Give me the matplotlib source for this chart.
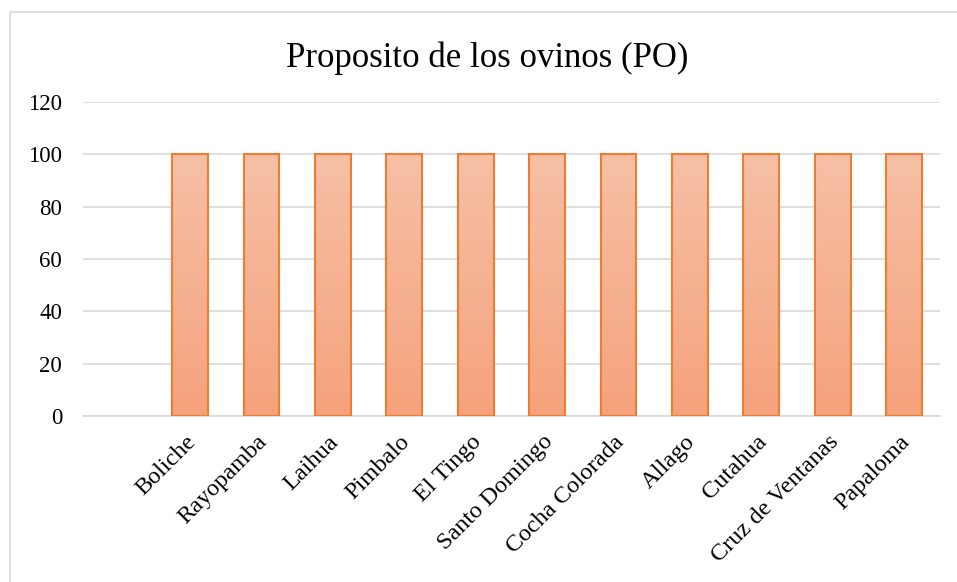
import numpy as np
import matplotlib.pyplot as plt
from matplotlib.patches import Rectangle
from matplotlib.colors import LinearSegmentedColormap
from matplotlib.transforms import ScaledTranslation

plt.rcParams['font.family'] = ['Liberation Serif', 'DejaVu Serif']

categories = ['', 'Boliche', 'Rayopamba', 'Laihua', 'Pimbalo', 'El Tingo', 'Santo Domingo',
              'Cocha Colorada', 'Allago', 'Cutahua', 'Cruz de Ventanas', 'Papaloma']
values = [np.nan, 100, 100, 100, 100, 100, 100, 100, 100, 100, 100, 100]
yticks = [0, 20, 40, 60, 80, 100, 120]

fig = plt.figure(figsize=(9.57, 5.82), dpi=100)
ax = fig.add_axes([0.0867, 0.285, 0.8953, 0.54])

# outer chart frame
fig.patches.append(Rectangle((10 / 957, -0.01), 1.0, 1 - 12 / 582 + 0.01, transform=fig.transFigure,
                             fill=False, edgecolor='#D9D9D9', linewidth=1.2, zorder=0))

x = np.arange(len(categories))
bars = ax.bar(x, values, width=0.5, color='none', edgecolor='#ED7D31', linewidth=1.5, zorder=3)

cmap = LinearSegmentedColormap.from_list('g', ['#F5A27C', '#F7C0A6'])
grad = np.linspace(0, 1, 256).reshape(-1, 1)
for b in bars:
    h = b.get_height()
    if not np.isfinite(h) or h <= 0:
        continue
    bx, by, w = b.get_x(), b.get_y(), b.get_width()
    im = ax.imshow(grad, cmap=cmap, aspect='auto', origin='lower',
                   extent=[bx, bx + w, by, by + h], zorder=2)
    im.set_clip_path(b)

ax.set_xlim(-0.5, len(categories) - 0.5)
ax.set_ylim(0, 120)
ax.set_yticks(yticks)
ax.set_yticklabels([str(v) for v in yticks], fontsize=16.5)
ax.set_xticks(x)
ax.set_xticklabels(categories, fontsize=17.5, rotation=45, ha='right', rotation_mode='anchor')
ax.tick_params(axis='both', length=0)
ax.tick_params(axis='y', pad=15)
ax.tick_params(axis='x', pad=11)
shift = ScaledTranslation(-5 / 100, 0, fig.dpi_scale_trans)
for lbl in ax.get_xticklabels():
    lbl.set_transform(lbl.get_transform() + shift)

ax.grid(axis='y', color='#D9D9D9', linewidth=1.2, zorder=0)
ax.set_axisbelow(True)
for s in ['top', 'right', 'left']:
    ax.spines[s].set_visible(False)
ax.spines['bottom'].set_color('#D9D9D9')
ax.spines['bottom'].set_linewidth(1.2)

fig.text(0.509, 1 - 67 / 582, 'Proposito de los ovinos (PO)', ha='center', va='baseline', fontsize=25)

fig.savefig('out.png', dpi=100)
